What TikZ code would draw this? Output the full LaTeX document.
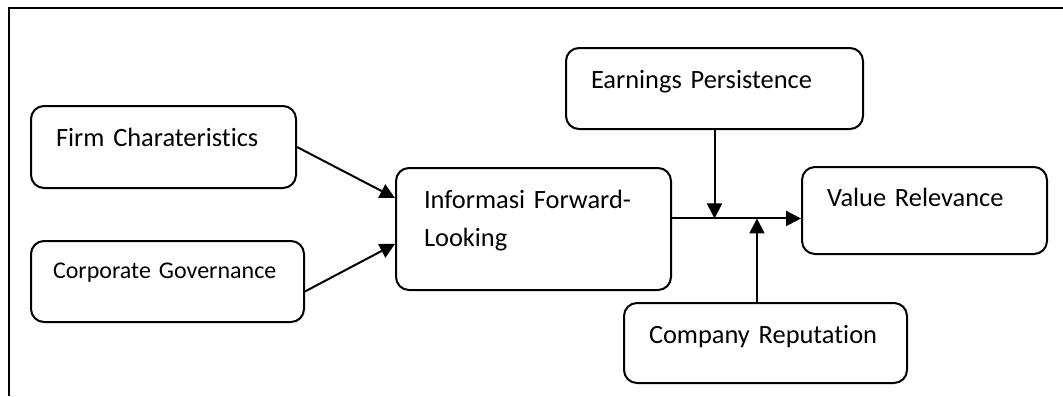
\documentclass[tikz,border=0pt]{standalone}
\usepackage{fontspec}
\setmainfont{Carlito}[Ligatures=CommonOff]
\usetikzlibrary{arrows.meta,calc}

\tikzset{
  varbox/.style={draw,rounded corners=6.5pt,line width=1pt,anchor=north west,
    align=left,inner xsep=12.5pt,inner ysep=0pt,text height=20pt,
    font=\fontsize{13.2}{19}\selectfont},
  link/.style={line width=1pt,-{Triangle[length=7.5pt,width=7.5pt]}}
}

\begin{document}
\begin{tikzpicture}[x=0.5pt,y=-0.5pt]
\useasboundingbox (0,0) rectangle (1063,396);
\draw[line width=1pt] (1063,8) -- (9,8) -- (9,396);

\node [varbox,text width=107.5pt,text depth=21pt] (firm) at (30,105) {Firm Charateristics};
\node [varbox,inner xsep=11pt,text width=114.5pt,text height=18.5pt,text depth=22pt,
  font=\fontsize{12}{19}\selectfont] (corp) at (30,240) {Corporate Governance};
\node [varbox,inner xsep=14pt,text width=109.5pt,text depth=41pt] (info) at (395,167)
  {Informasi Forward-\\Looking};
\node [varbox,text width=123.5pt,text depth=20.5pt] (earn) at (565,47) {Earnings Persistence};
\node [varbox,text width=97.5pt,text height=19.5pt,text depth=24pt] (val) at (801,166) {Value Relevance};
\node [varbox,text width=116.5pt,text depth=20pt] (comp) at (623,302) {Company Reputation};

\coordinate (j) at ($(info.north east)!0.415!(info.south east)$);
\coordinate (up) at ($(comp.north west)!0.47!(comp.north east)$);

\draw [link] (firm.east) -- ($(info.north west)!0.25!(info.south west)$);
\draw [link] ($(corp.north east)!0.62!(corp.south east)$) -- ($(info.north west)!0.62!(info.south west)$);
\draw [link] (j) -- (j -| val.west);
\draw [link] (earn.south) -- (earn.south |- j);
\draw [link] (up) -- (up |- j);
\end{tikzpicture}
\end{document}
